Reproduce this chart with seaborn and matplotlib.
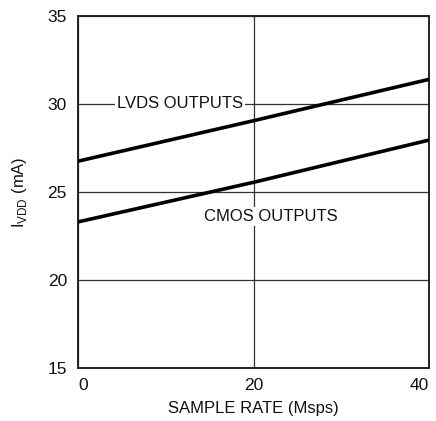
import matplotlib
matplotlib.use("Agg")
import matplotlib.pyplot as plt
import pandas as pd
import seaborn as sns

# sample rate (Msps) vs supply current (mA)
rate = [0, 20, 40]
lvds = [26.75, 29.05, 31.4]
cmos = [23.3, 25.55, 27.95]

sns.set_style("white")
plt.rcParams["font.family"] = ["Liberation Sans", "DejaVu Sans"]

df = pd.DataFrame({
    "rate": rate * 2,
    "idd": lvds + cmos,
    "out": ["LVDS"] * len(rate) + ["CMOS"] * len(rate),
})

fig = plt.figure(figsize=(4.36, 4.21), dpi=100)
ax = fig.add_axes([78 / 436, 1 - 368 / 421, 351 / 436, 352 / 421])

sns.lineplot(data=df, x="rate", y="idd", units="out", estimator=None,
             color="black", linewidth=2.6, ax=ax, zorder=3)

ax.set_xlim(0, 40)
ax.set_ylim(15, 35)
ax.set_xticks([0, 20, 40])
ax.set_yticks([15, 20, 25, 30, 35])
ax.grid(True, color="#333333", linewidth=0.9)
ax.set_axisbelow(True)
for s in ax.spines.values():
    s.set_color("#222222")
    s.set_linewidth(1.4)
ax.tick_params(axis="both", length=0, labelsize=12.5, colors="#111111")
ax.tick_params(axis="x", pad=7)
ax.tick_params(axis="y", pad=8)
xl = ax.get_xticklabels()
xl[0].set_ha("left")
xl[-1].set_ha("right")

ax.set_xlabel("SAMPLE RATE (Msps)", fontsize=12, color="#111111", labelpad=6)
ax.set_ylabel(r"I$_{\mathregular{VDD}}$ (mA)", fontsize=12, color="#111111", labelpad=13)

box = dict(facecolor="white", edgecolor="none", pad=1.5)
ax.text(11.6, 30, "LVDS OUTPUTS", ha="center", va="center", fontsize=12,
        color="#111111", bbox=box, zorder=4)
ax.text(22.0, 23.6, "CMOS OUTPUTS", ha="center", va="center", fontsize=12,
        color="#111111", bbox=box, zorder=4)

fig.savefig("out.png", dpi=100)
